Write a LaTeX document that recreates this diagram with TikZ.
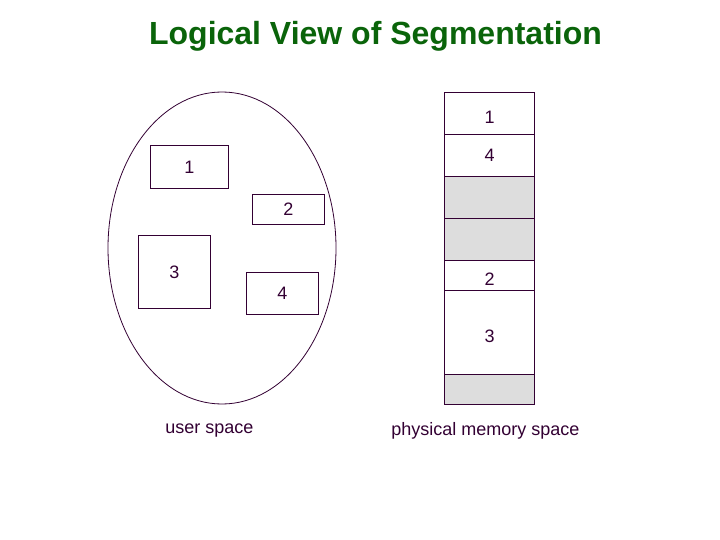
\documentclass[tikz,border=0pt]{standalone}
\usepackage{fontspec}
\setmainfont{Liberation Sans}
\usetikzlibrary{positioning,shapes.geometric}
\definecolor{sgink}{HTML}{330033}
\definecolor{sgtitle}{HTML}{0A640A}
\definecolor{sghole}{HTML}{DDDDDD}
\tikzset{
  sgtext/.style={font=\fontsize{18}{21}\selectfont, text=sgink, inner sep=0pt},
  sgspace/.style={draw=sgink, line width=0.8pt, ellipse, inner sep=0pt},
  sgseg/.style={draw=sgink, line width=0.8pt, inner sep=0pt, fill=white,
    sgtext},
  sgmem/.style={sgseg, minimum width=89.6},
  sghole/.style={sgmem, fill=sghole}
}
\begin{document}
\begin{tikzpicture}[x=1pt,y=-1pt]
  \useasboundingbox[fill=white] (0,0) rectangle (720,540);

  \node[font=\bfseries\fontsize{32}{36}\selectfont, text=sgtitle] (title)
    at (375.5,36) {Logical View of Segmentation};

  % user space
  \node[sgspace, minimum width=228, minimum height=312] (user) at (222,248) {};
  \node[sgseg, minimum width=78.7, minimum height=42.3] (u1) at (189.3,167) {1};
  \node[sgseg, minimum width=72.4, minimum height=30] (u2) at (288.5,209.3) {2};
  \node[sgseg, minimum width=72.4, minimum height=72.3] (u3) at (174.5,272) {3};
  \node[sgseg, minimum width=72.4, minimum height=42] (u4) at (282.5,293.3) {4};

  % physical memory
  \node[sgmem, minimum height=42, label={[sgtext,yshift=-4pt]center:1}]
    (m1) at (489.5,113.3) {};
  \node[sgmem, minimum height=42.4, label={[sgtext]center:4}]
    (m2) at (489.5,155.5) {};
  \node[sghole, minimum height=41.6] (m3) at (489.5,197.5) {};
  \node[sghole, minimum height=42] (m4) at (489.5,239.3) {};
  \node[sgmem, minimum height=30, label={[sgtext,yshift=-3.5pt]center:2}]
    (m5) at (489.5,275.3) {};
  \node[sgmem, minimum height=84, label={[sgtext,yshift=-4pt]center:3}]
    (m6) at (489.5,332.3) {};
  \node[sghole, minimum height=29.7] (m7) at (489.5,389.2) {};

  \node[sgtext] (userlbl) at (209.5,431) {user space};
  \node[sgtext] (memlbl) at (485.5,431) {physical memory space};
\end{tikzpicture}
\end{document}
